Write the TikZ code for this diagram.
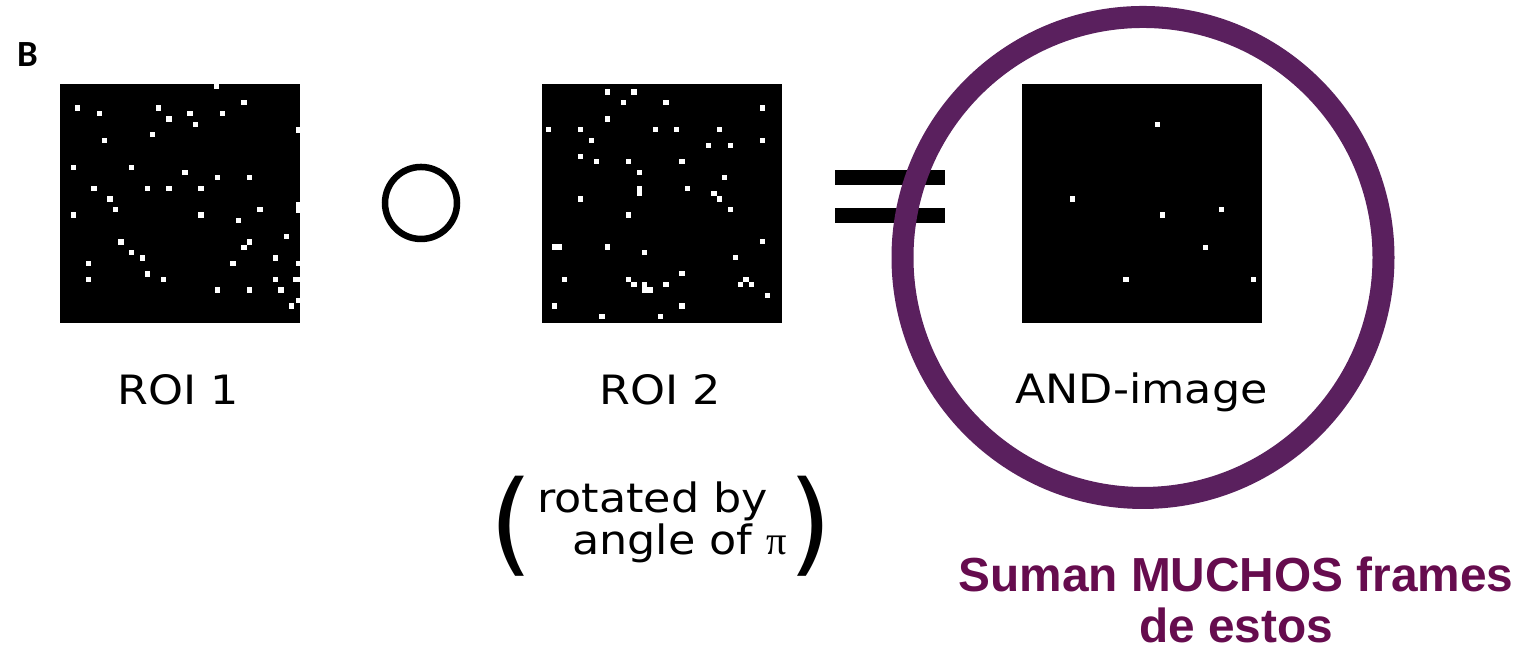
\documentclass[tikz,border=0pt]{standalone}
\usepackage{fontspec}
\newfontfamily\roifont{DejaVu Sans}[FakeStretch=1.1]
\newfontfamily\parenfont{DejaVu Sans}
\newfontfamily\notefont{Liberation Sans}
\newfontfamily\pifont{Liberation Serif}
\newfontfamily\panelfont{Carlito}
\definecolor{ringpurple}{RGB}{90,32,94}
\definecolor{notepurple}{RGB}{102,12,78}
\tikzset{
  roibox/.style={fill=black},
  speck/.style={fill=white},
  panellabel/.style={font=\panelfont\bfseries\fontsize{10.5}{12}\selectfont, inner sep=0pt},
  roilabel/.style={font=\roifont\fontsize{11.5}{13}\selectfont, inner sep=0pt, anchor=base},
  parenlabel/.style={font=\parenfont\fontsize{32}{32}\selectfont, inner sep=0pt},
  opring/.style={draw=black, line width=0.065cm},
  eqbar/.style={fill=black},
  ring/.style={draw=ringpurple, line width=0.22cm},
  note/.style={font=\notefont\bfseries\fontsize{13.6}{14.6}\selectfont, text=notepurple, align=center, inner sep=0pt},
}
\begin{document}
\begin{tikzpicture}
\useasboundingbox (0,0) rectangle (15.32,6.48);
\node[panellabel] (panel) at (0.275,5.93) {B};
% ROI 1
\fill[roibox] (0.60,3.25) rectangle (3.00,5.64);
\foreach \x/\y in {0.777/5.40, 0.993/5.347, 1.583/5.40, 1.69/5.29, 1.90/5.347, 1.957/5.237,
  2.223/5.347, 2.44/5.453, 2.167/5.62, 1.527/5.133, 1.047/5.077, 0.733/4.807, 1.317/4.807,
  1.85/4.757, 2.173/4.703, 2.493/4.703, 0.94/4.597, 1.477/4.597, 1.69/4.597, 2.01/4.597,
  1.10/4.49, 1.153/4.383, 0.733/4.33, 2.01/4.33, 2.60/4.383, 2.383/4.273, 2.867/4.113,
  2.493/4.06, 2.44/4.007, 1.21/4.06, 1.317/3.953, 1.423/3.90, 0.887/3.847, 2.33/3.847,
  2.757/3.90, 0.887/3.687, 1.477/3.74, 1.637/3.687, 2.757/3.687, 2.173/3.58, 2.493/3.58,
  2.81/3.58, 2.917/3.42, 2.985/5.18, 2.985/4.43, 2.985/4.38, 2.985/3.847, 2.96/3.687,
  2.985/3.687, 2.985/3.473}
  \fill[speck] (\x-0.026,\y-0.026) rectangle ++(0.052,0.052);
% ROI 2
\fill[roibox] (5.42,3.25) rectangle (7.82,5.64);
\foreach \x/\y in {6.073/5.56, 6.34/5.56, 6.233/5.453, 6.66/5.453, 7.623/5.40, 6.073/5.29,
  5.483/5.183, 5.803/5.183, 6.557/5.183, 6.767/5.183, 7.193/5.183, 5.917/5.077, 7.623/5.077,
  7.087/5.023, 7.307/5.023, 5.803/4.917, 5.967/4.863, 6.287/4.863, 6.82/4.863, 6.393/4.757,
  7.247/4.703, 6.393/4.597, 6.393/4.543, 6.873/4.597, 7.14/4.543, 7.193/4.49, 5.803/4.49,
  7.307/4.383, 6.287/4.33, 7.623/4.063, 5.543/4.01, 5.597/4.01, 6.073/4.01, 6.447/3.953,
  7.353/3.903, 6.82/3.743, 5.647/3.687, 6.287/3.687, 6.34/3.633, 6.447/3.633, 6.447/3.58,
  6.50/3.58, 6.66/3.633, 7.407/3.633, 7.46/3.687, 7.513/3.633, 7.677/3.527, 5.543/3.42,
  6.82/3.42, 6.02/3.313, 6.607/3.313}
  \fill[speck] (\x-0.026,\y-0.026) rectangle ++(0.052,0.052);
% AND-image
\fill[roibox] (10.22,3.25) rectangle (12.62,5.64);
\foreach \x/\y in {11.577/5.237, 10.723/4.49, 11.627/4.33, 12.217/4.383, 12.057/4.007,
  11.26/3.687, 12.537/3.687}
  \fill[speck] (\x-0.026,\y-0.026) rectangle ++(0.052,0.052);
% operators
\draw[opring] (4.21,4.45) circle (0.36);
\fill[eqbar] (8.35,4.63) rectangle (9.45,4.78);
\fill[eqbar] (8.35,4.247) rectangle (9.45,4.397);
% labels
\node[roilabel] (roione) at (1.78,2.43) {ROI 1};
\node[roilabel] (roitwo) at (6.60,2.43) {ROI 2};
\node[roilabel] (andlabel) at (11.415,2.44) {AND-image};
\node[roilabel] (rotone) at (6.525,1.35) {rotated by};
\node[roilabel] (rottwo) at (6.795,0.93) {angle of {\pifont π}};
\node[parenlabel] (lparen) at (5.11,1.215) {(};
\node[parenlabel] (rparen) at (8.105,1.215) {)};
% highlight
\draw[ring] (11.43,3.905) circle (2.405);
\node[note] (note) at (12.36,0.48) {Suman MUCHOS frames\\de estos};
\end{tikzpicture}
\end{document}
